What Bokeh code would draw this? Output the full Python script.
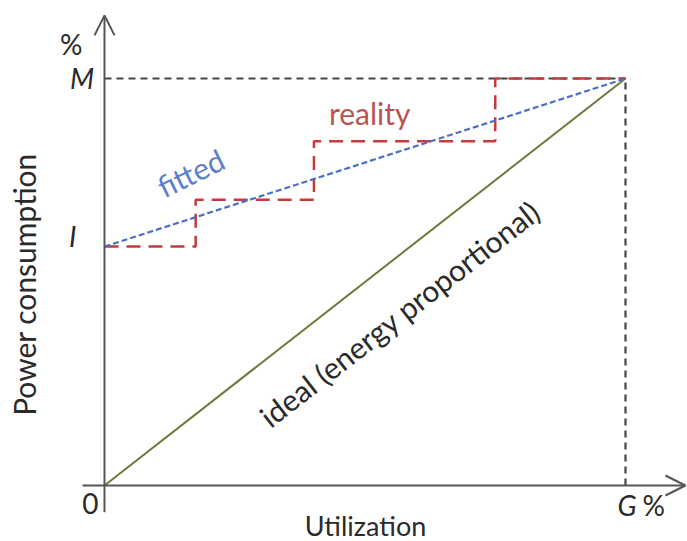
from bokeh.plotting import figure
from bokeh.models import Range1d, Arrow, OpenHead
from bokeh.core.properties import value
from bokeh.embed import file_html
from bokeh.resources import INLINE
import math

# Normalised axes: utilization 0..100 (G%), power 0..100 (M)
idle_power = 58.7          # I, power drawn at zero load
ideal_util = [0, 100]
ideal_power = [0, 100]
fitted_util = [0, 100]
fitted_power = [idle_power, 100]
reality_util = [0, 17.5, 17.5, 40.2, 40.2, 75.0, 75.0, 100]
reality_power = [idle_power, idle_power, 70.2, 70.2, 84.6, 84.6, 100, 100]

FONT = "Lato"
W, H = 687, 541

p = figure(width=W, height=H, output_backend="svg", toolbar_location=None,
           x_range=Range1d(-19.96, 111.9), y_range=Range1d(-13.76, 119.16),
           min_border=0, outline_line_color=None)
p.axis.visible = False
p.grid.visible = False
p.background_fill_color = "white"
p.border_fill_color = "white"

axis_col = "#555555"

# guide lines at M and G
p.line([0, 100], [100, 100], line_color="#444444", line_width=2.2, line_dash="7 5")
p.line([100, 100], [0, 100], line_color="#444444", line_width=2.2, line_dash="7 5")

# ideal energy-proportional line
p.line(ideal_util, ideal_power, line_color="#6b7a3c", line_width=2)

# measured step curve
p.line(reality_util, reality_power, line_color="#c43a3d", line_width=2.5,
       line_dash="14 8")

# linear fit
p.line(fitted_util, fitted_power, line_color="#4a6fc4", line_width=2.2,
       line_dash="6 3")

# axes with open arrow heads
p.add_layout(Arrow(end=OpenHead(size=20, line_width=2, line_color=axis_col),
                   x_start=0, y_start=-6.6, x_end=0, y_end=115.5,
                   line_width=2, line_color=axis_col))
p.add_layout(Arrow(end=OpenHead(size=20, line_width=2, line_color=axis_col),
                   x_start=-4.2, y_start=0, x_end=111.5, y_end=0,
                   line_width=2, line_color=axis_col))

def label(x, y, txt, size="28px", color="#2a2a2a", angle=0.0, style="normal"):
    p.text(x=[x], y=[y], text=[txt], text_font=value(FONT),
           text_font_size=value(size), text_color=color, angle=angle,
           text_align="center", text_baseline="middle",
           text_font_style=style)

label(-6.4, 108.5, "%")
label(-4.3, 100, "M", style="italic")
label(-6.1, 61.4, "I", style="italic")
label(-2.7, -4.4, "0")
label(100.3, -4.9, "G", style="italic")
label(105.4, -4.9, "%")

label(50.1, -9.9, "Utilization", size="27px")
label(-15.4, 49.4, "Power consumption", size="30px", angle=math.pi / 2)

label(16.5, 76.9, "fitted", size="30px", color="#5b7fcf", angle=math.radians(26))
label(50.9, 91.6, "reality", size="30px", color="#b85450")
label(56.6, 42.3, "ideal (energy proportional)", size="30px",
      angle=math.radians(38))

open("out.html", "w").write(file_html(p, INLINE))
